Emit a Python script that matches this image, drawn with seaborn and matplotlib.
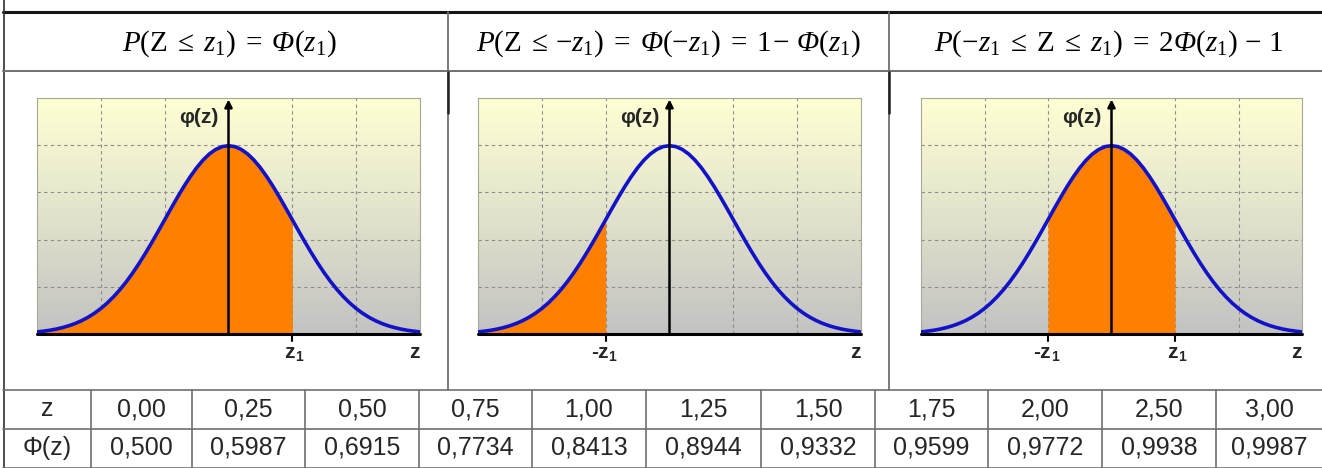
import numpy as np
import matplotlib
matplotlib.use("Agg")
import matplotlib.pyplot as plt
import seaborn as sns
from matplotlib.colors import LinearSegmentedColormap

# ---------------- data ----------------
z_grid = [-3.0, -2.9, -2.8, -2.7, -2.6, -2.5, -2.4, -2.3, -2.2, -2.1,
          -2.0, -1.9, -1.8, -1.7, -1.6, -1.5, -1.4, -1.3, -1.2, -1.1,
          -1.0, -0.9, -0.8, -0.7, -0.6, -0.5, -0.4, -0.3, -0.2, -0.1,
          0.0, 0.1, 0.2, 0.3, 0.4, 0.5, 0.6, 0.7, 0.8, 0.9,
          1.0, 1.1, 1.2, 1.3, 1.4, 1.5, 1.6, 1.7, 1.8, 1.9,
          2.0, 2.1, 2.2, 2.3, 2.4, 2.5, 2.6, 2.7, 2.8, 2.9, 3.0]
phi_density = [0.0044, 0.0060, 0.0079, 0.0104, 0.0136, 0.0175, 0.0224, 0.0283, 0.0355, 0.0440,
               0.0540, 0.0656, 0.0790, 0.0940, 0.1109, 0.1295, 0.1497, 0.1714, 0.1942, 0.2179,
               0.2420, 0.2661, 0.2897, 0.3123, 0.3332, 0.3521, 0.3683, 0.3814, 0.3910, 0.3970,
               0.3989, 0.3970, 0.3910, 0.3814, 0.3683, 0.3521, 0.3332, 0.3123, 0.2897, 0.2661,
               0.2420, 0.2179, 0.1942, 0.1714, 0.1497, 0.1295, 0.1109, 0.0940, 0.0790, 0.0656,
               0.0540, 0.0440, 0.0355, 0.0283, 0.0224, 0.0175, 0.0136, 0.0104, 0.0079, 0.0060, 0.0044]
shade_ranges = [(-3.0, 1.0), (-3.0, -1.0), (-1.0, 1.0)]
formulas = [r"$P(\mathrm{Z}\;\leq\; z_1)\;=\;\mathsf{Φ}(z_1)$",
            r"$P(\mathrm{Z}\;\leq\,{-z_1})\;=\;\mathsf{Φ}({-z_1})\;=\;1\!-\,\mathsf{Φ}(z_1)$",
            r"$P({-z_1}\;\leq\;\mathrm{Z}\;\leq\; z_1)\;=\;2\mathsf{Φ}(z_1)\,-\,1$"]
panel_tick_labels = [["z"], ["-z"], ["-z", "z"]]
panel_tick_pos = [[1.0], [-1.0], [-1.0, 1.0]]
table_z = ["0,00", "0,25", "0,50", "0,75", "1,00", "1,25", "1,50", "1,75", "2,00", "2,50", "3,00"]
table_Phi = ["0,500", "0,5987", "0,6915", "0,7734", "0,8413", "0,8944", "0,9332", "0,9599",
             "0,9772", "0,9938", "0,9987"]

# ---------------- style ----------------
sns.set_theme(style="white")
plt.rcParams['font.family'] = ['Liberation Sans', 'DejaVu Sans']
plt.rcParams['mathtext.fontset'] = 'custom'
plt.rcParams['mathtext.rm'] = 'Liberation Serif'
plt.rcParams['mathtext.it'] = 'Liberation Serif:italic'
plt.rcParams['mathtext.sf'] = 'Liberation Serif:italic'
plt.rcParams['mathtext.bf'] = 'Liberation Serif:bold'
plt.rcParams['mathtext.fallback'] = 'stix'

W, H = 1322, 468
fig = plt.figure(figsize=(W / 100, H / 100), dpi=100)
ov = fig.add_axes([0, 0, 1, 1])
ov.set_xlim(0, W)
ov.set_ylim(H, 0)
ov.axis('off')

# ---------------- layout table lines ----------------
dark = '#303030'
mid = '#707070'
ov.plot([3, W], [12, 12], color='#151515', lw=2.2)
ov.plot([3.5, 3.5], [0, H], color=dark, lw=1.2)
ov.plot([3, W], [71, 71], color=mid, lw=1.4)
for xd in (447.5, 889):
    ov.plot([xd, xd], [12, 390], color=mid, lw=1.3)
    ov.plot([xd, xd], [72, 113], color='#222222', lw=1.8)
row_y = [390, 429, 467.5]
for yy in row_y:
    ov.plot([3, W], [yy, yy], color=mid, lw=1.2)
col_x = [3.5, 91, 192, 305, 419, 532, 646, 761, 875, 988, 1102, 1216]
for xx in col_x[1:]:
    ov.plot([xx, xx], [390, H], color=mid, lw=1.2)

# formulas
fx = [229, 668, 1109]
for f, x in zip(formulas, fx):
    ov.text(x, 44, f, ha='center', va='center', fontsize=21, color='black')

# table text
col_edges = col_x + [W]
centers = [(col_edges[i] + col_edges[i + 1]) / 2 for i in range(len(col_edges) - 1)]
ov.text(centers[0], 409, "z", ha='center', va='center', fontsize=18)
ov.text(centers[0], 448, "Φ(z)", ha='center', va='center', fontsize=18)
for c, zl, pl in zip(centers[1:], table_z, table_Phi):
    ov.text(c, 409, zl, ha='center', va='center', fontsize=18)
    ov.text(c, 448, pl, ha='center', va='center', fontsize=18)

# ---------------- panels ----------------
panels_x = [(37, 420), (478, 861), (921, 1302)]
y_top, y_bot = 98, 334
cmap = LinearSegmentedColormap.from_list('bg', ['#c2c2c2', '#e2e2cc', '#ffffd4'])
grad = np.linspace(0, 1, 256).reshape(-1, 1)
z_arr = np.array(z_grid)
d_arr = np.array(phi_density)

for (x0, x1), (lo, hi), tl, tp in zip(panels_x, shade_ranges, panel_tick_labels, panel_tick_pos):
    ax = fig.add_axes([x0 / W, 1 - y_bot / H, (x1 - x0) / W, (y_bot - y_top) / H])
    ax.imshow(grad, extent=[-3, 3, 0, 0.5], aspect='auto', origin='lower', cmap=cmap, zorder=0)
    ax.set_xlim(-3, 3)
    ax.set_ylim(0, 0.5)
    for gx in (-2, -1, 1, 2):
        ax.axvline(gx, color='#8c8c8c', lw=0.8, ls=(0, (3, 3)), zorder=1)
    for gy in (0.1, 0.2, 0.3, 0.4):
        ax.axhline(gy, color='#8c8c8c', lw=0.8, ls=(0, (3, 3)), zorder=1)
    mask = (z_arr >= lo - 1e-9) & (z_arr <= hi + 1e-9)
    ax.fill_between(z_arr, 0, d_arr, where=mask, color='#ff8000', lw=0, zorder=2)
    sns.lineplot(x=z_arr, y=d_arr, ax=ax, color='#1212c8', lw=2.6, zorder=4)
    ax.axhline(0, color='black', lw=2.2, zorder=5, clip_on=False)
    ax.annotate('', xy=(0, 0.497), xytext=(0, 0),
                arrowprops=dict(arrowstyle='-|>', color='black', lw=1.8, mutation_scale=11,
                                shrinkA=0, shrinkB=0), zorder=6)
    ax.text(-0.15, 0.458, "φ(z)", ha='right', va='center', fontsize=15, fontweight='bold')
    for lab, pos in zip(tl, tp):
        ax.plot([pos, pos], [0, -0.014], color='black', lw=1.5, clip_on=False)
        ax.annotate(lab, xy=(pos, -0.02), xytext=(2, 0), textcoords='offset points',
                    ha='right', va='top', fontsize=15, fontweight='bold', annotation_clip=False)
        ax.annotate("1", xy=(pos, -0.02), xytext=(2, -5), textcoords='offset points',
                    ha='left', va='top', fontsize=10, fontweight='bold', annotation_clip=False)
    ax.text(2.99, -0.02, "z", ha='right', va='top', fontsize=15, fontweight='bold')
    ax.set_xticks([])
    ax.set_yticks([])
    ax.set_xlabel('')
    ax.set_ylabel('')
    for s in ax.spines.values():
        s.set_color('#a8a898')
        s.set_linewidth(0.8)
    ax.spines['bottom'].set_visible(False)

fig.savefig('out.png', dpi=100)
